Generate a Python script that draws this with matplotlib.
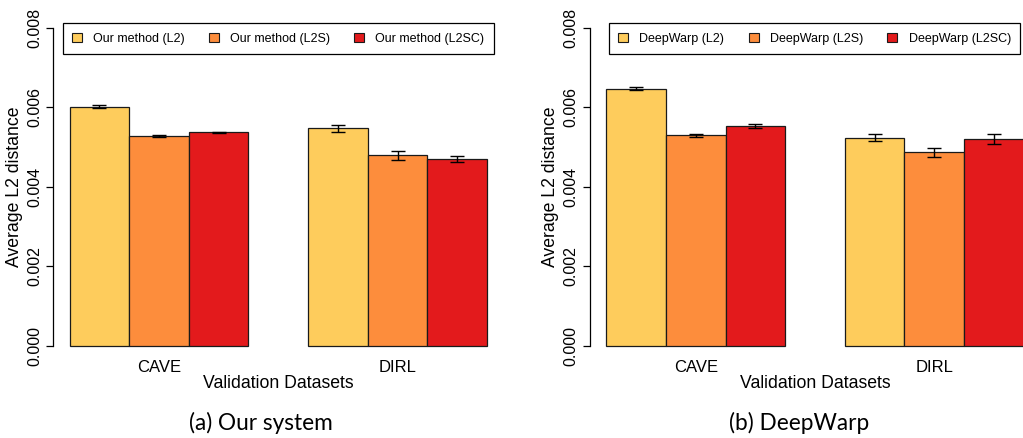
"""Average L2 distance on the validation datasets, our system vs DeepWarp."""

import matplotlib

matplotlib.use("Agg")

import matplotlib.pyplot as plt
import numpy as np
from matplotlib.patches import Patch


DATASETS = ["CAVE", "DIRL"]
COLORS = ["#FECC5C", "#FD8D3C", "#E31A1C"]

OURS_LABELS = ["Our method (L2)", "Our method (L2S)", "Our method (L2SC)"]
# rows: L2, L2S, L2SC; columns: CAVE, DIRL
OURS_MEANS = [[0.006017, 0.005471], [0.005286, 0.004792], [0.005371, 0.004691]]
OURS_ERRS = [[0.00004, 0.000096], [0.00003, 0.000113], [0.00002, 0.000075]]

DW_LABELS = ["DeepWarp (L2)", "DeepWarp (L2S)", "DeepWarp (L2SC)"]
DW_MEANS = [[0.006469, 0.005235], [0.005303, 0.004867], [0.005537, 0.005210]]
DW_ERRS = [[0.00004, 0.000092], [0.00004, 0.00011], [0.000045, 0.00012]]

Y_TICKS = [0.000, 0.002, 0.004, 0.006, 0.008]

W, H = 1023, 438
SANS = ["Liberation Sans", "DejaVu Sans"]


def draw_panel(fig, left_px, labels, means, errs, legend_x0, legend_w):
    ax = fig.add_axes([left_px / W, (H - 358.4) / H, 450.6 / W, 343.1 / H])
    means = np.asarray(means)
    errs = np.asarray(errs)

    # R barplot layout: bar width 1, one empty unit before each group
    for i, label in enumerate(labels):
        xs = np.array([1.5 + i, 5.5 + i])
        ax.bar(xs, means[i], width=1.0, color=COLORS[i],
               edgecolor="#1a1a1a", linewidth=0.9, label=label, zorder=2)
        ax.errorbar(xs, means[i], yerr=errs[i], fmt="none", ecolor="black",
                    elinewidth=1.0, capsize=4.7, capthick=1.0, zorder=3)

    ax.set_xlim(0.72, 8.28)
    ax.set_ylim(-0.00032, 0.00832)
    for side in ["top", "right", "bottom"]:
        ax.spines[side].set_visible(False)
    ax.spines["left"].set_bounds(0, 0.008)
    ax.spines["left"].set_linewidth(0.9)

    ax.set_yticks(Y_TICKS)
    ax.set_yticklabels([f"{v:.3f}" for v in Y_TICKS], rotation=90,
                       va="center", fontsize=11.5, family=SANS)
    ax.tick_params(axis="y", length=5, width=0.9, pad=3)
    ax.set_xticks([2.5, 6.5])
    ax.set_xticklabels(DATASETS, fontsize=12, family=SANS)
    ax.tick_params(axis="x", length=0, pad=1)

    ax.set_xlabel("Validation Datasets", fontsize=12.7, family=SANS, labelpad=0)
    ax.set_ylabel("Average L2 distance", fontsize=12.7, family=SANS, labelpad=3)

    handles = [Patch(facecolor=c, edgecolor="#1a1a1a", linewidth=0.8)
               for c in COLORS]
    ax.legend(handles, labels, ncol=3, loc="lower left",
              bbox_to_anchor=(legend_x0, 0.8863, legend_w, 0.0883),
              mode="expand", borderaxespad=0, fancybox=False,
              edgecolor="black", framealpha=1,
              prop={"family": SANS, "size": 9},
              handlelength=0.8, handleheight=0.8, handletextpad=0.9,
              borderpad=0.75, columnspacing=2.0)
    ax.get_legend().get_frame().set_linewidth(0.9)
    return ax


def main():
    fig = plt.figure(figsize=(W / 100, H / 100), dpi=100)

    draw_panel(fig, 53.0, OURS_LABELS, OURS_MEANS, OURS_ERRS, 0.0215, 0.9565)
    draw_panel(fig, 589.7, DW_LABELS, DW_MEANS, DW_ERRS, 0.0422, 0.9134)

    cap_font = ["Lato", "DejaVu Sans"]
    fig.text(260.5 / W, (H - 423) / H, "(a) Our system", ha="center",
             va="center", fontsize=16.3, family=cap_font)
    fig.text(798.7 / W, (H - 423) / H, "(b) DeepWarp", ha="center",
             va="center", fontsize=16.3, family=cap_font)

    fig.savefig("out.png", dpi=100)
    plt.close(fig)


if __name__ == "__main__":
    main()
